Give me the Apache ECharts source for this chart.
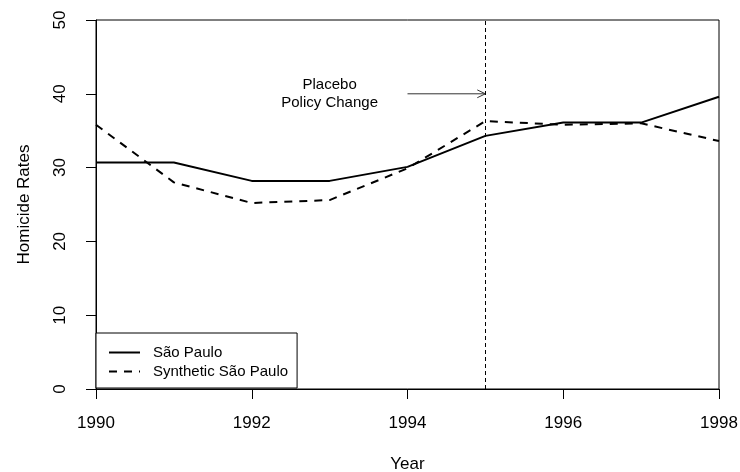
<!DOCTYPE html>
<html>
<head>
<meta charset="utf-8">
<script src="https://cdn.jsdelivr.net/npm/echarts@6/dist/echarts.min.js"></script>
<style>
html,body{margin:0;padding:0;background:#fff;}
#chart{width:740px;height:472px;}
</style>
</head>
<body>
<div id="chart"></div>
<script>
var years = [1990, 1991, 1992, 1993, 1994, 1995, 1996, 1997, 1998];
var saoPaulo = [30.7, 30.7, 28.2, 28.2, 30.1, 34.3, 36.1, 36.1, 39.6];
var syntheticSaoPaulo = [35.8, 28.0, 25.2, 25.6, 29.9, 36.3, 35.8, 36.0, 33.6];
var seriesNames = ['São Paulo', 'Synthetic São Paulo'];
var policyYear = 1995;
var annoTextX = 1993;
var annoY = 40;
var arrowFromX = 1994;
var arrowToX = 1995;
var annoText = 'Placebo\nPolicy Change';
var xTitle = 'Year';
var yTitle = 'Homicide Rates';

var FONT = '"Liberation Sans", Arial, Helvetica, sans-serif';

function pairs(xs, ys) {
  return xs.map(function (x, i) { return [x, ys[i]]; });
}

var chart = echarts.init(document.getElementById('chart'), null, {renderer: 'canvas'});

var option = {
  animation: false,
  backgroundColor: '#fff',
  grid: {
    left: 96, top: 20, right: 21, bottom: 83,
    containLabel: false,
    outerBoundsMode: 'none',
    show: true, borderColor: '#000', borderWidth: 1, backgroundColor: 'transparent'
  },
  legend: {
    orient: 'vertical',
    left: 96, top: 333,
    padding: [12, 9, 9, 12],
    itemGap: 4,
    itemWidth: 31,
    itemHeight: 15,
    borderColor: '#000',
    borderWidth: 1,
    backgroundColor: '#fff',
    itemStyle: {color: 'rgba(0,0,0,0)', borderColor: 'rgba(0,0,0,0)', borderWidth: 0},
    textStyle: {fontFamily: FONT, fontSize: 15, color: '#000', padding: [0, 0, 0, 8]},
    data: seriesNames
  },
  xAxis: {
    type: 'value',
    min: 1990, max: 1998, interval: 2,
    name: xTitle,
    nameLocation: 'middle',
    nameGap: 67,
    nameTextStyle: {fontFamily: FONT, fontSize: 17, color: '#000', verticalAlign: 'top'},
    axisLine: {show: true, lineStyle: {color: '#000', width: 1}},
    axisTick: {show: true, length: 10, lineStyle: {color: '#000', width: 1}},
    axisLabel: {fontFamily: FONT, fontSize: 17, color: '#000', margin: 26,
      formatter: function (v) { return String(v); }},
    splitLine: {show: false}
  },
  yAxis: {
    type: 'value',
    min: 0, max: 50, interval: 10,
    name: yTitle,
    nameLocation: 'middle',
    nameGap: 63,
    nameRotate: 90,
    nameTextStyle: {fontFamily: FONT, fontSize: 17, color: '#000'},
    axisLine: {show: true, lineStyle: {color: '#000', width: 1}},
    axisTick: {show: true, length: 10, lineStyle: {color: '#000', width: 1}},
    axisLabel: {fontFamily: FONT, fontSize: 17, color: '#000', margin: 27, rotate: 90},
    splitLine: {show: false}
  },
  series: [
    {
      name: seriesNames[0],
      type: 'line',
      data: pairs(years, saoPaulo),
      symbol: 'none',
      lineStyle: {color: '#000', width: 2, type: 'solid'},
      itemStyle: {color: '#000'},
      markLine: {
        silent: true,
        symbol: 'none',
        label: {show: false},
        lineStyle: {color: '#000', width: 1, type: [4, 3]},
        data: [{xAxis: policyYear}]
      },
      z: 3
    },
    {
      name: seriesNames[1],
      type: 'line',
      data: pairs(years, syntheticSaoPaulo),
      symbol: 'none',
      lineStyle: {color: '#000', width: 2, type: [8, 7]},
      itemStyle: {color: '#000'},
      z: 3
    },
    {
      type: 'custom',
      coordinateSystem: 'cartesian2d',
      silent: true,
      clip: false,
      data: [[annoTextX, annoY]],
      renderItem: function (params, api) {
        var t = api.coord([annoTextX, annoY]);
        var a0 = api.coord([arrowFromX, annoY]);
        var a1 = api.coord([arrowToX, annoY]);
        var hl = 9, ang = Math.PI / 7;
        return {
          type: 'group',
          children: [
            {
              type: 'text',
              style: {
                text: annoText, x: t[0], y: t[1],
                align: 'center', verticalAlign: 'middle',
                fontFamily: FONT, fontSize: 15, lineHeight: 18, fill: '#000'
              }
            },
            {
              type: 'line',
              shape: {x1: a0[0], y1: a0[1], x2: a1[0], y2: a1[1]},
              style: {stroke: '#333', lineWidth: 1}
            },
            {
              type: 'polyline',
              shape: {points: [
                [a1[0] - hl * Math.cos(ang), a1[1] - hl * Math.sin(ang)],
                [a1[0], a1[1]],
                [a1[0] - hl * Math.cos(ang), a1[1] + hl * Math.sin(ang)]
              ]},
              style: {stroke: '#333', lineWidth: 1, fill: null}
            }
          ]
        };
      }
    }
  ]
};
chart.setOption(option);
</script>
</body>
</html>
